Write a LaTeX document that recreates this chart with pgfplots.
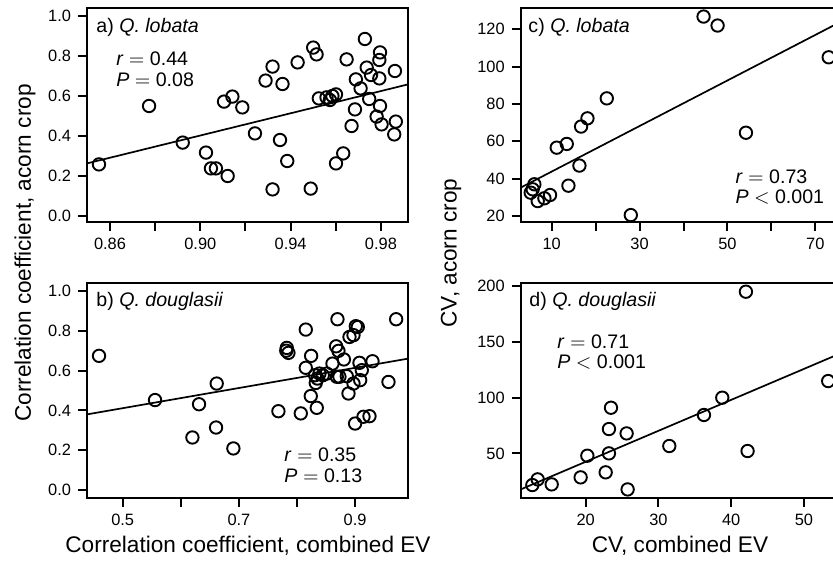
\documentclass[border=0pt]{standalone}
\usepackage{pgfplots}
\pgfplotsset{compat=1.18}
\usepackage{fontspec}
\setmainfont{Liberation Sans}

% shared look of the four panels (1 px of the reference = 0.5pt)
\pgfplotsset{
  panel/.style={
    scale only axis,
    width=160.5pt,
    axis line style={line width=1pt},
    tick align=outside,
    xtick pos=left, ytick pos=left,
    major tick length=4.5pt,
    tick style={line width=1pt, black},
    tick label style={font=\fontsize{8.2}{9.5}\selectfont},
    /pgf/number format/assume math mode=true,
  },
  pts/.style={only marks, mark=o, mark size=3.1pt, mark options={line width=0.95pt}, black},
  fit/.style={no marks, line width=0.85pt, black},
}
\tikzset{ptext/.style={anchor=west, inner sep=0pt, font=\fontsize{9.8}{11}\selectfont}}

\begin{document}
\begin{tikzpicture}
\path[use as bounding box] (0,0) rectangle (416.5pt,283pt);
\clip (0,0) rectangle (416.5pt,283pt);

% a) Q. lobata, correlation coefficients
\begin{axis}[panel, height=107pt, at={(43.5pt,172pt)}, anchor=south west,
  xmin=0.8498, xmax=0.992, ymin=-0.03, ymax=1.04,
  xtick={0.86,0.88,0.90,0.92,0.94,0.96,0.98},
  xticklabels={0.86,,0.90,,0.94,,0.98},
  ytick={0,0.2,0.4,0.6,0.8,1.0},
  yticklabels={0.0,0.2,0.4,0.6,0.8,1.0}]
\addplot[pts] coordinates {
 (0.8551,0.258) (0.8773,0.550) (0.8922,0.367) (0.9025,0.317) (0.9047,0.238)
 (0.9069,0.238) (0.9121,0.200) (0.9105,0.572) (0.9142,0.597) (0.9186,0.543)
 (0.9242,0.413) (0.9289,0.677) (0.9320,0.747) (0.9364,0.660) (0.9353,0.380)
 (0.9385,0.275) (0.9320,0.133) (0.9431,0.768) (0.9500,0.842) (0.9515,0.808)
 (0.9489,0.137) (0.9525,0.588) (0.9559,0.593) (0.9574,0.580) (0.9585,0.600)
 (0.9601,0.608) (0.9633,0.313) (0.9601,0.263) (0.9648,0.783) (0.9685,0.533)
 (0.9670,0.450) (0.9689,0.683) (0.9710,0.638) (0.9729,0.885) (0.9737,0.742)
 (0.9756,0.705) (0.9748,0.585) (0.9796,0.818) (0.9793,0.780) (0.9793,0.688)
 (0.9796,0.550) (0.9781,0.497) (0.9803,0.458) (0.9862,0.725) (0.9866,0.472)
 (0.9859,0.408)
};
\addplot[fit] coordinates {(0.8498,0.263) (0.992,0.658)};
\node[ptext] at (rel axis cs:0.028,0.911) {a) \textit{Q. lobata}};
\node[ptext] at (rel axis cs:0.09,0.762) {\textit{r} $=$ 0.44};
\node[ptext] at (rel axis cs:0.09,0.664) {\textit{P} $=$ 0.08};
\end{axis}

% b) Q. douglasii, correlation coefficients
\begin{axis}[panel, height=107.5pt, at={(43.5pt,34pt)}, anchor=south west,
  xmin=0.4386, xmax=0.991, ymin=-0.04, ymax=1.04,
  xtick={0.5,0.6,0.7,0.8,0.9},
  xticklabels={0.5,,0.7,,0.9},
  ytick={0,0.2,0.4,0.6,0.8,1.0},
  yticklabels={0.0,0.2,0.4,0.6,0.8,1.0}]
\addplot[pts] coordinates {
 (0.4593,0.674) (0.5557,0.452) (0.6200,0.264) (0.6314,0.431) (0.6618,0.535)
 (0.6607,0.314) (0.6905,0.209) (0.7680,0.396) (0.7824,0.714) (0.7852,0.689)
 (0.7815,0.700) (0.8065,0.385) (0.8151,0.806) (0.8151,0.614) (0.8243,0.674)
 (0.8237,0.472) (0.8340,0.413) (0.8311,0.577) (0.8352,0.560) (0.8386,0.585)
 (0.8444,0.577) (0.8512,0.585) (0.8323,0.538) (0.8696,0.858) (0.8673,0.722)
 (0.8713,0.699) (0.8610,0.635) (0.8807,0.656) (0.8685,0.569) (0.8730,0.569)
 (0.8857,0.572) (0.8903,0.769) (0.8972,0.778) (0.9012,0.823) (0.9046,0.819)
 (0.9075,0.639) (0.9115,0.602) (0.8972,0.535) (0.9087,0.552) (0.8886,0.485)
 (0.9000,0.334) (0.9144,0.368) (0.9247,0.371) (0.9299,0.647) (0.9574,0.543)
 (0.9706,0.858)
};
\addplot[fit] coordinates {(0.4386,0.38) (0.991,0.66)};
\node[ptext] at (rel axis cs:0.028,0.916) {b) \textit{Q. douglasii}};
\node[ptext] at (rel axis cs:0.614,0.200) {\textit{r} $=$ 0.35};
\node[ptext] at (rel axis cs:0.614,0.102) {\textit{P} $=$ 0.13};
\end{axis}

% c) Q. lobata, CV
\begin{axis}[panel, height=107pt, at={(260.35pt,172pt)}, anchor=south west,
  xmin=2.94, xmax=76, ymin=16.8, ymax=131.4,
  xtick={10,20,30,40,50,60,70},
  xticklabels={10,,30,,50,,70},
  ytick={20,40,60,80,100,120}]
\addplot[pts] coordinates {
 (5.67,34.3) (6.05,37.0) (5.22,32.5) (6.81,28.0) (8.33,29.5) (9.62,31.25)
 (11.14,56.6) (13.42,58.6) (13.8,36.25) (16.3,47.0) (16.68,67.9) (18.13,72.3)
 (22.53,83.0) (28.0,20.5) (44.56,126.8) (47.75,122.0) (54.2,64.6) (73.04,105.0)
};
\addplot[fit] coordinates {(2.94,35.2) (76,124.3)};
\node[ptext] at (rel axis cs:0.023,0.911) {c) \textit{Q. lobata}};
\node[ptext] at (rel axis cs:0.668,0.210) {\textit{r} $=$ 0.73};
\node[ptext] at (rel axis cs:0.668,0.117) {\textit{P} $<$ 0.001};
\end{axis}

% d) Q. douglasii, CV
\begin{axis}[panel, height=107.5pt, at={(260.35pt,34pt)}, anchor=south west,
  xmin=11.07, xmax=55.2, ymin=10, ymax=202.7,
  xtick={20,30,40,50},
  ytick={50,100,150,200}]
\addplot[pts] coordinates {
 (12.67,21.6) (13.4,26.7) (15.33,22.2) (19.31,28.5) (20.23,47.9) (22.75,33.0)
 (23.2,50.0) (23.2,71.8) (23.48,90.9) (25.63,67.9) (25.77,17.7) (31.5,56.6)
 (36.26,84.4) (38.78,99.9) (42.26,52.1) (42.03,194.9) (53.34,114.8)
};
\addplot[fit] coordinates {(11.07,17.7) (55.2,140.1)};
\node[ptext] at (rel axis cs:0.026,0.916) {d) \textit{Q. douglasii}};
\node[ptext] at (rel axis cs:0.113,0.726) {\textit{r} $=$ 0.71};
\node[ptext] at (rel axis cs:0.113,0.633) {\textit{P} $<$ 0.001};
\end{axis}

% shared axis titles
\node[rotate=90, font=\fontsize{11.3}{13}\selectfont] at (12.5pt,156.5pt) {Correlation coefficient, acorn crop};
\node[rotate=90, font=\fontsize{11.3}{13}\selectfont] at (225.5pt,156.5pt) {CV, acorn crop};
\node[font=\fontsize{11.3}{13}\selectfont] at (124pt,10pt) {Correlation coefficient, combined EV};
\node[font=\fontsize{11.3}{13}\selectfont] at (340pt,10pt) {CV, combined EV};
\end{tikzpicture}
\end{document}
